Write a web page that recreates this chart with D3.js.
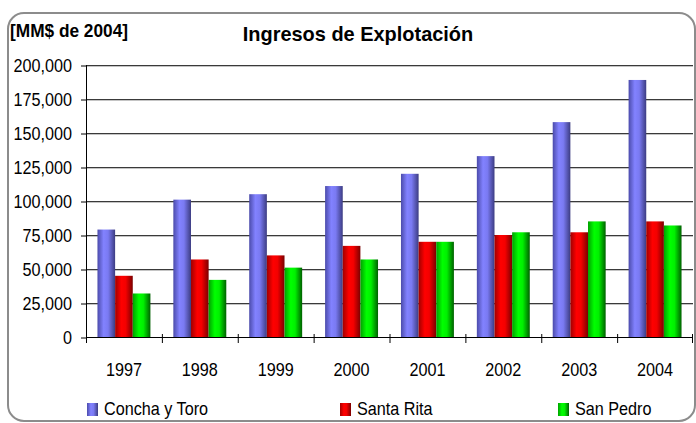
<!DOCTYPE html>
<html>
<head>
<meta charset="utf-8">
<script src="https://cdn.jsdelivr.net/npm/d3@7"></script>
<style>
  body { margin: 0; background: #fff; }
  svg { display: block; font-family: "Liberation Sans", Arial, sans-serif; }
</style>
</head>
<body>
<svg id="plot" width="696" height="423"></svg>
<script>
// data
var years = ["1997", "1998", "1999", "2000", "2001", "2002", "2003", "2004"];
var series = ["Concha y Toro", "Santa Rita", "San Pedro"];
var conchaYToro = [79000, 101000, 105000, 111000, 120000, 133000, 158000, 189000];
var santaRita = [45000, 57000, 60000, 67000, 70000, 75000, 77000, 85000];
var sanPedro = [32000, 42000, 51000, 57000, 70000, 77000, 85000, 82000];
var yTicks = [0, 25000, 50000, 75000, 100000, 125000, 150000, 175000, 200000];

var values = [conchaYToro, santaRita, sanPedro];

var svg = d3.select("#plot"),
    margin = {top: 65, right: 3, bottom: 86, left: 86},
    width = +svg.attr("width") - margin.left - margin.right,
    height = +svg.attr("height") - margin.top - margin.bottom;

var squeeze = 0.9; // the reference text is a little narrow

// cylinder-like shading for each series: dark, bright, dark
var shades = [
    ["#4b4bab", "#8282ff", "#7a7af2", "#3c3c82"],
    ["#a00000", "#ff0000", "#f40000", "#7a0000"],
    ["#00a000", "#00ff00", "#00f000", "#006000"]
];
var defs = svg.append("defs");
shades.forEach(function(s, i) {
    var grad = defs.append("linearGradient")
        .attr("id", "grad" + i)
        .attr("x1", "0%").attr("x2", "100%").attr("y1", "0%").attr("y2", "0%");
    grad.append("stop").attr("offset", "0%").attr("stop-color", s[0]);
    grad.append("stop").attr("offset", "35%").attr("stop-color", s[1]);
    grad.append("stop").attr("offset", "60%").attr("stop-color", s[2]);
    grad.append("stop").attr("offset", "100%").attr("stop-color", s[3]);
});

// rounded frame around the chart
svg.append("rect")
    .attr("x", 8).attr("y", 13)
    .attr("width", 687).attr("height", 408)
    .attr("rx", 16).attr("ry", 16)
    .attr("fill", "none")
    .attr("stroke", "#8c8c8c")
    .attr("stroke-width", 2);

var x = d3.scaleBand().domain(years).range([0, width]).paddingInner(0).paddingOuter(0);
var xInner = d3.scaleBand().domain(series).range([0, x.bandwidth()]).paddingOuter(0.65).paddingInner(0);
var y = d3.scaleLinear().domain([0, 200000]).range([height, 0]);

var g = svg.append("g")
    .attr("transform", "translate(" + margin.left + "," + margin.top + ")");

// gridlines with a soft shadow below
g.selectAll(".grid-shadow")
    .data(yTicks.slice(1))
    .enter().append("line")
    .attr("x1", 0).attr("x2", width)
    .attr("y1", function(d) { return y(d) + 1.5; })
    .attr("y2", function(d) { return y(d) + 1.5; })
    .attr("stroke", "#c4c4c4").attr("stroke-width", 1);

g.selectAll(".grid")
    .data(yTicks.slice(1))
    .enter().append("line")
    .attr("x1", 0).attr("x2", width)
    .attr("y1", function(d) { return y(d) + 0.5; })
    .attr("y2", function(d) { return y(d) + 0.5; })
    .attr("stroke", "#3a3a3a").attr("stroke-width", 1);

// bars
var groups = g.selectAll(".year")
    .data(years)
    .enter().append("g")
    .attr("transform", function(d) { return "translate(" + x(d) + ",0)"; });

groups.selectAll("rect")
    .data(function(d, i) { return series.map(function(s, k) { return {s: s, k: k, v: values[k][i]}; }); })
    .enter().append("rect")
    .attr("x", function(d) { return xInner(d.s); })
    .attr("width", xInner.bandwidth())
    .attr("y", function(d) { return y(d.v); })
    .attr("height", function(d) { return height - y(d.v); })
    .attr("fill", function(d) { return "url(#grad" + d.k + ")"; });

// y axis
var yAxis = g.append("g")
    .call(d3.axisLeft(y).tickValues(yTicks).tickSize(5)
        .tickFormat(d3.format(",")));
yAxis.select(".domain").attr("stroke", "#000").attr("d", "M0.5," + height + "V0");
yAxis.selectAll("line").attr("stroke", "#000").attr("transform", "translate(0,0.5)");
yAxis.selectAll("text")
    .attr("font-size", 18).attr("font-family", "Liberation Sans, Arial, sans-serif")
    .attr("fill", "#000").attr("dy", "0.36em")
    .attr("x", -14 / squeeze)
    .attr("transform", "scale(" + squeeze + ",1)");

// x axis
var xAxis = g.append("g")
    .attr("transform", "translate(0," + (height + 0.5) + ")")
    .call(d3.axisBottom(x).tickSize(0));
xAxis.select(".domain").attr("stroke", "#000").attr("d", "M0,0H" + width);
xAxis.selectAll("text")
    .attr("font-size", 18).attr("font-family", "Liberation Sans, Arial, sans-serif")
    .attr("fill", "#000").attr("y", 38.5).attr("dy", 0)
    .attr("transform", "scale(" + squeeze + ",1)");

// boundary ticks on the category axis
g.selectAll(".xtick")
    .data(years.concat(["end"]))
    .enter().append("line")
    .attr("x1", function(d, i) { return i < years.length ? x(d) + 0.5 : width - 0.5; })
    .attr("x2", function(d, i) { return i < years.length ? x(d) + 0.5 : width - 0.5; })
    .attr("y1", height - 3).attr("y2", height + 6)
    .attr("stroke", "#000");

// titles
svg.append("text")
    .attr("transform", "translate(358,41) scale(0.95,1)")
    .attr("text-anchor", "middle")
    .attr("font-size", 21).attr("font-weight", "bold")
    .text("Ingresos de Explotación");

svg.append("text")
    .attr("transform", "translate(10,37) scale(0.96,1)")
    .attr("font-size", 18).attr("font-weight", "bold")
    .text("[MM$ de 2004]");

// legend
var legendX = [87, 340, 558];
var legend = svg.selectAll(".legend")
    .data(series)
    .enter().append("g")
    .attr("transform", function(d, i) { return "translate(" + legendX[i] + ",403)"; });

legend.append("rect")
    .attr("width", 11).attr("height", 13)
    .attr("fill", function(d, i) { return "url(#grad" + i + ")"; });

legend.append("text")
    .attr("transform", "translate(17,12) scale(" + squeeze + ",1)")
    .attr("font-size", 18)
    .text(function(d) { return d; });
</script>
</body>
</html>
